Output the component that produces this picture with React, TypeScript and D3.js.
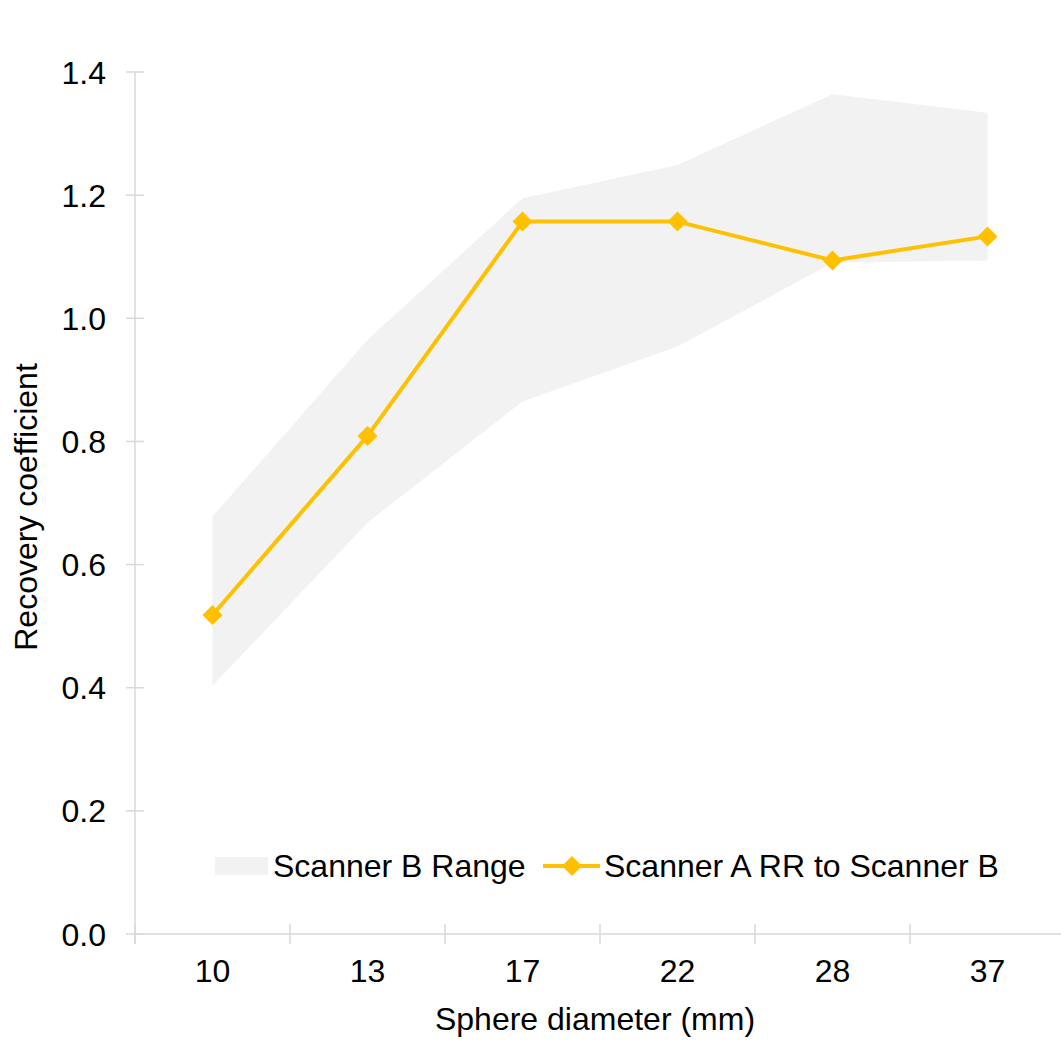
import React from 'react';
import * as d3 from 'd3';

const categories = ['10', '13', '17', '22', '28', '37'];
const rangeLow = [0.403, 0.668, 0.865, 0.954, 1.09, 1.094];
const rangeHigh = [0.678, 0.965, 1.195, 1.249, 1.364, 1.334];
const scannerA = [0.518, 0.809, 1.157, 1.157, 1.094, 1.133];
const yTicks = [0, 0.2, 0.4, 0.6, 0.8, 1.0, 1.2, 1.4];

const W = 1061;
const H = 1043;
const FONT = '"Liberation Sans", Arial, sans-serif';
const GOLD = '#FFC000';
const AXIS = '#D9D9D9';

export default function App() {
  const x = d3.scaleBand<string>().domain(categories).range([135, 1065]);
  const y = d3.scaleLinear().domain([0, 1.4]).range([934, 72]);
  const cx = (c: string) => (x(c) as number) + x.bandwidth() / 2;

  const area = d3.area<number>()
    .x((_, i) => cx(categories[i]))
    .y0((_, i) => y(rangeLow[i]))
    .y1(d => y(d));

  const line = d3.line<number>()
    .x((_, i) => cx(categories[i]))
    .y(d => y(d));

  const diamond = (px: number, py: number, r: number) =>
    `M${px},${py - r}L${px + r},${py}L${px},${py + r}L${px - r},${py}Z`;

  const bounds = categories.map(c => x(c) as number).concat([1065]);

  return (
    <div style={{ position: 'absolute', left: 0, top: 0 }}>
      <svg width={W} height={H} style={{ display: 'block', background: '#fff' }} fontFamily={FONT}>
        <path d={area(rangeHigh) || ''} fill="#F2F2F2" />

        {/* y axis */}
        <line x1={135} x2={135} y1={y(1.4)} y2={944} stroke={AXIS} strokeWidth={1.5} />
        {yTicks.map(t => (
          <g key={t}>
            <line x1={126} x2={144} y1={y(t)} y2={y(t)} stroke={AXIS} strokeWidth={1.5} />
            <text x={106} y={y(t)} dy="0.36em" textAnchor="end" fontSize={32} fill="#000">
              {t.toFixed(1)}
            </text>
          </g>
        ))}

        {/* x axis */}
        <line x1={135} x2={W} y1={y(0)} y2={y(0)} stroke={AXIS} strokeWidth={1.5} />
        {bounds.map((b, i) => (
          <line key={i} x1={b} x2={b} y1={924} y2={944} stroke={AXIS} strokeWidth={1.5} />
        ))}
        {categories.map(c => (
          <text key={c} x={cx(c)} y={982} textAnchor="middle" fontSize={32} fill="#000">{c}</text>
        ))}

        <path d={line(scannerA) || ''} fill="none" stroke={GOLD} strokeWidth={4} strokeLinejoin="round" />
        {scannerA.map((v, i) => (
          <path key={i} d={diamond(cx(categories[i]), y(v), 10)} fill={GOLD} />
        ))}

        {/* legend */}
        <rect x={215} y={857} width={53} height={18} fill="#F2F2F2" />
        <text x={273} y={877} fontSize={32} fill="#000">Scanner B Range</text>
        <line x1={543} x2={600} y1={866} y2={866} stroke={GOLD} strokeWidth={4} />
        <path d={diamond(572, 866, 10)} fill={GOLD} />
        <text x={604} y={877} fontSize={32} fill="#000">Scanner A RR to Scanner B</text>

        <text x={595} y={1030} textAnchor="middle" fontSize={32} fill="#000">Sphere diameter (mm)</text>
        <text transform={`translate(37,507) rotate(-90)`} textAnchor="middle" fontSize={32} fill="#000">
          Recovery coefficient
        </text>
      </svg>
    </div>
  );
}
